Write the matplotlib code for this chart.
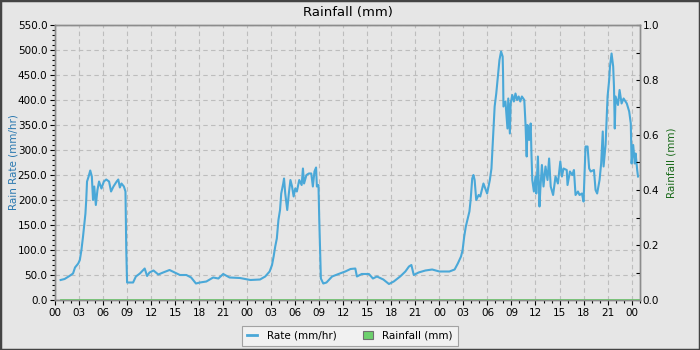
import matplotlib.pyplot as plt
import matplotlib.ticker as mticker
from matplotlib.patches import Rectangle, Patch
from matplotlib.lines import Line2D

# hours since midnight of day 1
hours = [0.7, 1.2, 1.8, 2.25, 2.5, 2.9, 3.1, 3.3, 3.5, 3.6, 3.8, 3.9, 4.0, 4.2, 4.4,
         4.6, 4.75, 4.9, 5.1, 5.3, 5.5, 5.8, 6.1, 6.4, 6.75, 7.0, 7.3, 7.7, 7.9, 8.1,
         8.3, 8.6, 8.8, 8.9, 9.0, 9.75, 10.1, 10.6, 11.2, 11.5, 11.8, 12.3, 12.9, 13.5,
         14.3, 14.95, 15.6, 16.4, 17.0, 17.6, 18.1, 18.9, 19.75, 20.4, 21.0, 21.8, 23.1,
         24.4, 25.6, 26.25, 26.8, 27.1, 27.3, 27.5, 27.7, 27.9, 28.1, 28.25, 28.5, 28.6,
         28.75, 29.0, 29.2, 29.4, 29.6, 29.8, 30.0, 30.2, 30.5, 30.8, 30.96, 31.1, 31.4,
         31.7, 32.0, 32.2, 32.4, 32.6, 32.7, 32.9, 33.0, 33.2, 33.5, 33.9, 34.6, 35.4,
         36.25, 36.9, 37.5, 37.7, 38.3, 39.2, 39.7, 40.2, 41.0, 41.7, 42.3, 43.1, 43.75,
         44.2, 44.5, 44.8, 45.4, 46.25, 47.1, 48.0, 49.25, 49.9, 50.3, 50.7, 50.9, 51.1,
         51.3, 51.5, 51.75, 51.9, 52.1, 52.25, 52.4, 52.6, 52.9, 53.1, 53.5, 53.96, 54.3,
         54.5, 54.7, 54.9, 55.1, 55.3, 55.5, 55.7, 55.9, 55.95, 56.0, 56.25, 56.5, 56.6,
         56.8, 56.9, 57.1, 57.3, 57.5, 57.7, 57.9, 58.1, 58.3, 58.6, 58.75, 58.9, 59.0,
         59.2, 59.4, 59.5, 59.6, 59.8, 60.0, 60.1, 60.3, 60.5, 60.6, 60.8, 61.0, 61.25,
         61.5, 61.7, 61.9, 62.2, 62.5, 62.8, 63.1, 63.3, 63.5, 63.9, 64.0, 64.3, 64.6,
         64.8, 65.0, 65.3, 65.5, 65.8, 66.0, 66.25, 66.5, 66.7, 66.9, 67.3, 67.5, 67.7,
         68.0, 68.2, 68.4, 68.5, 68.75, 68.9, 69.0, 69.2, 69.3, 69.5, 69.7, 69.8, 69.9,
         70.0, 70.3, 70.5, 70.75, 71.0, 71.4, 71.7, 71.9, 72.0, 72.2, 72.4, 72.5, 72.7,
         72.8]
rate = [40, 42, 48, 53, 65, 73, 80, 100, 127, 143, 173, 200, 237, 247, 259,
        247, 200, 227, 190, 220, 237, 223, 237, 241, 237, 217, 227, 237, 241, 225,
        233, 227, 217, 100, 35, 35, 47, 53, 63, 48, 55, 59, 51, 55,
        60, 55, 50, 50, 45, 33, 35, 37, 45, 43, 52, 45, 44,
        40, 41, 47, 57, 70, 87, 107, 123, 160, 180, 213, 233, 243,
        213, 180, 213, 240, 227, 207, 223, 217, 240, 230, 263, 233, 250,
        253, 253, 227, 257, 265, 227, 230, 160, 43, 33, 35, 47, 52,
        57, 62, 63, 47, 52, 52, 43, 47, 41, 32, 37, 47, 57,
        67, 70, 50, 55, 59, 61, 57, 57, 61, 73, 87, 100, 127,
        147, 160, 177, 200, 243, 250, 240, 200, 210, 207, 233, 213, 240,
        263, 327, 387, 413, 447, 480, 497, 487, 453, 387, 397, 343, 403,
        333, 393, 410, 397, 413, 400, 407, 397, 407, 400, 353, 287, 350,
        320, 353, 290, 240, 217, 247, 213, 287, 187, 220, 270, 227, 267,
        240, 283, 227, 210, 247, 233, 277, 247, 263, 260, 230, 257, 250,
        260, 210, 217, 210, 213, 197, 307, 307, 263, 257, 260, 220, 213,
        240, 273, 337, 267, 310, 367, 407, 440, 467, 493, 467, 427, 343,
        407, 390, 420, 393, 403, 393, 377, 353, 273, 310, 273, 293, 260,
        247]
rain_hours = [0.7, 72.9]
rain = [0.0, 0.0]

BG = '#e6e6e6'
BLUE = '#4aa8d8'
GREEN = '#6cd06c'

fig = plt.figure(figsize=(7, 3.5), dpi=100, facecolor=BG)
ax = fig.add_axes([55 / 700, 50 / 350, 585 / 700, 275 / 350], facecolor=BG)
ax2 = ax.twinx()

ax.plot(hours, rate, color=BLUE, lw=1.5, zorder=3)
ax2.plot(rain_hours, rain, color=GREEN, lw=2.0, zorder=2)

ax.set_xlim(0, 73.05)
ax.set_ylim(0, 550)
ax2.set_ylim(0, 1)

ax.xaxis.set_major_locator(mticker.MultipleLocator(3))
ax.xaxis.set_minor_locator(mticker.MultipleLocator(1))
ax.xaxis.set_major_formatter(mticker.FuncFormatter(lambda v, p: '%02d' % (int(round(v)) % 24)))
ax.yaxis.set_major_locator(mticker.MultipleLocator(50))
ax.yaxis.set_minor_locator(mticker.MultipleLocator(10))
ax.yaxis.set_major_formatter(mticker.FormatStrFormatter('%.1f'))
ax2.yaxis.set_major_locator(mticker.MultipleLocator(0.2))
ax2.yaxis.set_minor_locator(mticker.MultipleLocator(0.1))
ax2.yaxis.set_major_formatter(mticker.FormatStrFormatter('%.1f'))

ax.tick_params(axis='both', which='major', labelsize=7.5, length=3.5, width=0.8, pad=2, direction='out')
ax.tick_params(axis='both', which='minor', length=2, width=0.8, direction='out')
ax2.tick_params(axis='y', which='major', labelsize=7.5, length=3, width=0.8, pad=2, direction='in')
ax2.tick_params(axis='y', which='minor', length=3, width=0.8, direction='in')

ax.grid(True, which='major', color='#bdbdbd', linestyle=(0, (4, 3)), linewidth=0.8)
ax.set_axisbelow(True)

for a in (ax, ax2):
    for s in a.spines.values():
        s.set_color('#8c8c8c')
        s.set_linewidth(1.0)

ax.set_ylabel('Rain Rate (mm/hr)', fontsize=7.5, color='#2a78b0')
ax.yaxis.set_label_coords(-0.063, 0.5)
ax2.set_ylabel('Rainfall (mm)', fontsize=7.5, color='#1a6b1a')
ax2.yaxis.set_label_coords(1.045, 0.5)
fig.text(0.497, 0.965, 'Rainfall (mm)', ha='center', va='center', fontsize=9.5)

handles = [Line2D([], [], color=BLUE, lw=2),
           Patch(facecolor=GREEN, edgecolor='#707070', linewidth=0.8)]
leg = fig.legend(handles, ['Rate (mm/hr)', 'Rainfall (mm)'], loc='center',
                 bbox_to_anchor=(0.5, 0.04), ncol=2, fontsize=7.5, frameon=True,
                 fancybox=False, handlelength=1.0, handleheight=0.8, columnspacing=2.5,
                 borderpad=0.5, handletextpad=0.9)
leg.get_frame().set_facecolor('#f5f5f5')
leg.get_frame().set_edgecolor('#909090')
leg.get_frame().set_linewidth(0.8)

fig.patches.append(Rectangle((0, 0), 1, 1, transform=fig.transFigure, fill=False,
                             edgecolor='#444444', linewidth=2.5, zorder=10))

fig.savefig('out.png', dpi=100, facecolor=BG)
